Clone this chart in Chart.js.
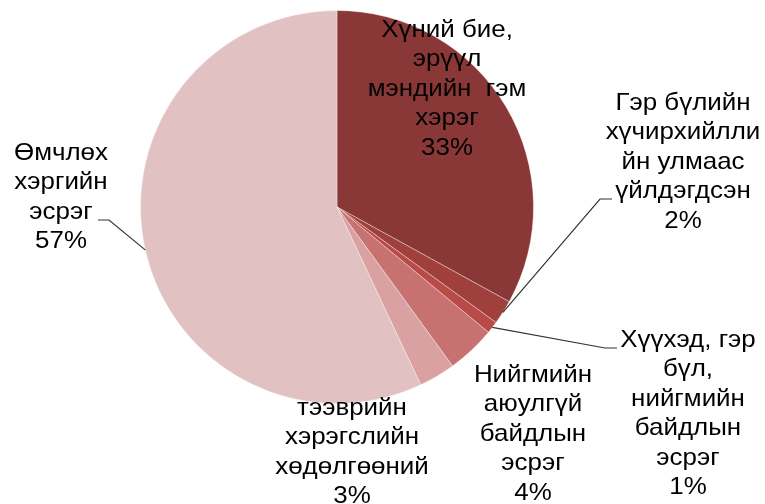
<!DOCTYPE html>
<html>
<head>
<meta charset="utf-8">
<script src="https://cdn.jsdelivr.net/npm/chart.js@4"></script>
<style>
  body { margin: 0; background: #fff; }
  canvas { display: block; }
</style>
</head>
<body>
<canvas id="pie" width="765" height="504"></canvas>
<script>
// slices, clockwise from 12 o'clock
const categories = [
    ['Хүний бие,', 'эрүүл', 'мэндийн  гэм', 'хэрэг'],
    ['Гэр бүлийн', 'хүчирхийлли', 'йн улмаас', 'үйлдэгдсэн'],
    ['Хүүхэд, гэр', 'бүл,', 'нийгмийн', 'байдлын', 'эсрэг'],
    ['Нийгмийн', 'аюулгүй', 'байдлын', 'эсрэг'],
    ['тээврийн', 'хэрэгслийн', 'хөдөлгөөний'],
    ['Өмчлөх', 'хэргийн', 'эсрэг']
];
const values = [33, 2, 1, 4, 3, 57];
const colors = ['#8a3737', '#a0403d', '#b84b47', '#c87171', '#d9a1a1', '#e1c1c2'];

// label block centre (first line) relative to pie centre, and leader elbow
const labelPos = [
    { dx: 110, dy: -177 },
    { dx: 346, dy: -104 },
    { dx: 351, dy: 133 },
    { dx: 196, dy: 168 },
    { dx: 15, dy: 201 },
    { dx: -276, dy: -54 }
];
const leaders = [
    null,
    [{ dx: 263, dy: -8 }, { dx: 275, dy: -8 }],
    [{ dx: 268, dy: 141 }, { dx: 280, dy: 141 }],
    null,
    null,
    [{ dx: -228, dy: 13 }, { dx: -239, dy: 13 }]
];

const font = '24px "Liberation Sans", Arial, sans-serif';
const lineH = 29.5;
const stretch = 1.08; // text in the original is a bit wide

const labelPlugin = {
    id: 'labels',
    afterDraw(chart) {
        const c = chart.ctx;
        const arcs = chart.getDatasetMeta(0).data;
        c.save();
        c.font = font;
        c.fillStyle = '#000';
        c.textAlign = 'center';
        c.textBaseline = 'middle';
        arcs.forEach((arc, i) => {
            const p = arc.getProps(['x', 'y', 'startAngle', 'endAngle', 'outerRadius'], true);
            const mid = (p.startAngle + p.endAngle) / 2;
            if (leaders[i]) {
                c.beginPath();
                c.strokeStyle = '#333';
                c.lineWidth = 1.2;
                c.moveTo(p.x + Math.cos(mid) * p.outerRadius, p.y + Math.sin(mid) * p.outerRadius);
                leaders[i].forEach(pt => c.lineTo(p.x + pt.dx, p.y + pt.dy));
                c.stroke();
            }
            const lines = categories[i].concat([values[i] + '%']);
            lines.forEach((t, k) => {
                c.save();
                c.translate(p.x + labelPos[i].dx, p.y + labelPos[i].dy + k * lineH);
                c.scale(stretch, 1);
                c.fillText(t, 0, 0);
                c.restore();
            });
        });
        c.restore();
    }
};

const ctx = document.getElementById('pie').getContext('2d');
const chart = new Chart(ctx, {
    type: 'pie',
    data: {
        labels: categories.map(l => l.join(' ')),
        datasets: [{
            data: values,
            backgroundColor: colors,
            borderColor: 'rgba(255,255,255,0.35)',
            borderWidth: 1
        }]
    },
    options: {
        responsive: false,
        animation: false,
        layout: {
            padding: { left: 140, right: 231, top: 10, bottom: 100 }
        },
        plugins: {
            legend: { display: false },
            tooltip: { enabled: false }
        }
    },
    plugins: [labelPlugin]
});
</script>
</body>
</html>
